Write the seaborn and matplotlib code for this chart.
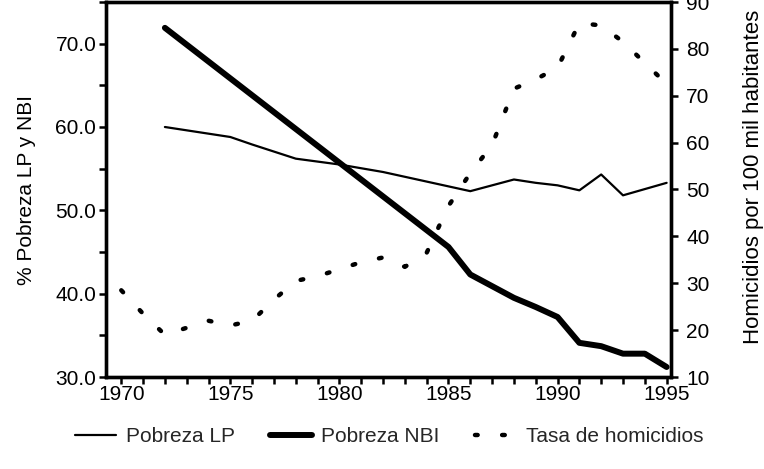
import matplotlib
matplotlib.use("Agg")
import matplotlib.pyplot as plt
import matplotlib.ticker as mticker
import seaborn as sns

sns.set_theme(style="white")  # estilo base
plt.rcParams['font.family'] = ['Liberation Sans', 'DejaVu Sans']

# Pobreza por línea de pobreza (%)
anios_lp = [1972, 1975, 1976, 1978, 1980, 1982, 1986, 1988, 1989, 1990, 1991, 1992, 1993, 1995]
pobreza_lp = [60.0, 58.8, 57.9, 56.2, 55.5, 54.6, 52.3, 53.7, 53.3, 53.0, 52.4, 54.3, 51.8, 53.3]

# Pobreza por necesidades básicas insatisfechas (%)
anios_nbi = [1972, 1985, 1986, 1988, 1989, 1990, 1991, 1992, 1993, 1994, 1995]
pobreza_nbi = [71.9, 45.6, 42.3, 39.5, 38.4, 37.2, 34.1, 33.7, 32.8, 32.8, 31.2]

# Homicidios por 100 mil habitantes
anios_hom = list(range(1970, 1996))
tasa_hom = [28.5, 23.5, 19.0, 20.5, 22.0, 21.0, 22.0, 26.5, 30.5, 31.5, 33.0, 34.5, 35.5,
            33.5, 36.5, 46.5, 53.5, 59.5, 71.5, 73.5, 76.0, 85.5, 85.0, 81.5, 77.0, 72.5]

fig = plt.figure(figsize=(7.64, 4.69), dpi=100)
fig.subplots_adjust(left=106/764, right=671/764, top=1-2/469, bottom=1-377/469)
ax = fig.add_subplot(111)
ax2 = ax.twinx()

sns.lineplot(x=anios_lp, y=pobreza_lp, ax=ax, color='black', linewidth=1.6,
             label='Pobreza LP', legend=False)
sns.lineplot(x=anios_nbi, y=pobreza_nbi, ax=ax, color='black', linewidth=4.3,
             label='Pobreza NBI', legend=False)
sns.lineplot(x=anios_hom, y=tasa_hom, ax=ax2, color='black', linewidth=3.2,
             linestyle=(0, (0.6, 5.5)), dash_capstyle='round',
             label='Tasa de homicidios', legend=False)

ax.set_xlim(1969.3, 1995.2)
ax.set_ylim(30, 75)
ax2.set_ylim(10, 90)

ax.xaxis.set_major_locator(mticker.MultipleLocator(5))
ax.xaxis.set_minor_locator(mticker.MultipleLocator(1))
ax.yaxis.set_major_locator(mticker.MultipleLocator(10))
ax.yaxis.set_minor_locator(mticker.MultipleLocator(5))
ax.yaxis.set_major_formatter(mticker.FormatStrFormatter('%.1f'))
ax2.yaxis.set_major_locator(mticker.MultipleLocator(10))

for a in (ax, ax2):
    for s in a.spines.values():
        s.set_color('black')
        s.set_linewidth(2.4)
    a.grid(False)

ax.tick_params(axis='both', which='both', direction='out', length=5, width=1.8,
               color='black', labelsize=15, labelcolor='black')
ax.tick_params(axis='x', which='both', pad=1, bottom=True)
ax.tick_params(axis='y', which='both', pad=2, left=True)
ax2.tick_params(axis='y', which='both', direction='out', length=5, width=1.8,
                color='black', labelsize=15, labelcolor='black', pad=6, right=True)

ax.set_ylabel('% Pobreza LP y NBI', fontsize=15, color='black', labelpad=14)
ax2.set_ylabel('Homicidios por 100 mil habitantes', fontsize=16, color='black')
ax2.yaxis.set_label_coords(1.128, 0.535)

h1, l1 = ax.get_legend_handles_labels()
h2, l2 = ax2.get_legend_handles_labels()
fig.legend(h1 + h2, l1 + l2, loc='center', bbox_to_anchor=(389/764, 1-437/469),
           ncol=3, frameon=False, fontsize=15, handlelength=2.0,
           handletextpad=0.45, columnspacing=1.7)

plt.savefig('out.png', dpi=100)
